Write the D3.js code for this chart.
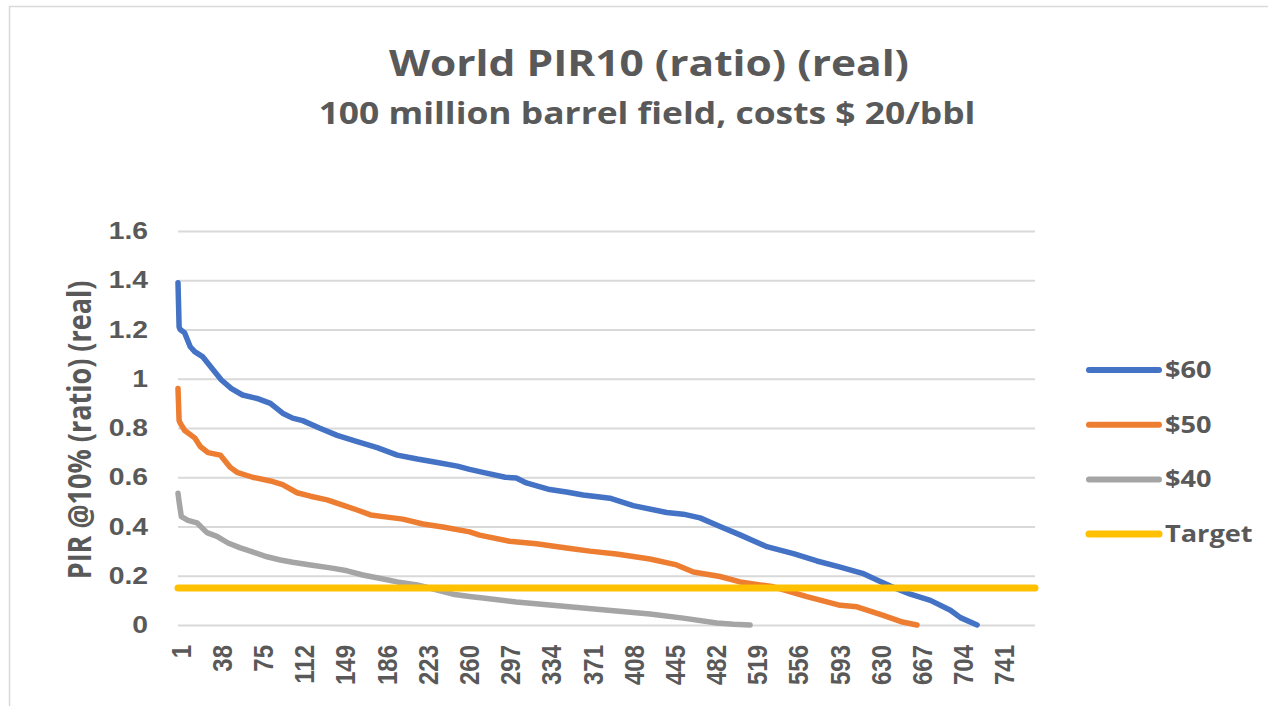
<!DOCTYPE html>
<html lang="en">
<head>
    <meta charset="UTF-8">
    <title>World PIR10 (ratio) (real)</title>
    <script src="https://d3js.org/d3.v7.min.js"></script>
    <style>
        body {
            margin: 0;
            background-color: #ffffff;
            font-family: "Open Sans", Arial, sans-serif;
        }
        .title {
            font-size: 36px;
            font-weight: bold;
            fill: #595959;
            text-anchor: middle;
        }
        .subtitle {
            font-size: 30px;
            font-weight: bold;
            fill: #595959;
            text-anchor: middle;
        }
        .tick-label {
            font-size: 24px;
            font-weight: bold;
            fill: #595959;
        }
        .axis-title {
            font-size: 27px;
            font-weight: bold;
            fill: #595959;
            text-anchor: middle;
        }
        .legend-label {
            font-size: 23px;
            font-weight: bold;
            fill: #595959;
        }
    </style>
</head>
<body>
    <svg id="chart" width="1268" height="706"></svg>
    <script>
        // sorted fields at sample positions
        const cats60 = [1, 2, 3, 7, 12, 16, 23, 32, 40, 49, 59, 72, 84, 95, 104, 113, 128, 144, 162, 180, 198, 216, 234, 252, 263, 275, 295, 305, 314, 335, 350, 365, 380, 389, 410, 440, 455, 470, 488, 506, 530, 554, 575, 596, 616, 629, 641, 659, 677, 695, 704, 719];
        const vals60 = [1.39, 1.21, 1.20, 1.186, 1.13, 1.11, 1.09, 1.04, 0.995, 0.96, 0.934, 0.92, 0.90, 0.86, 0.84, 0.83, 0.80, 0.77, 0.745, 0.72, 0.69, 0.674, 0.66, 0.645, 0.632, 0.62, 0.60, 0.597, 0.577, 0.55, 0.54, 0.528, 0.52, 0.515, 0.485, 0.457, 0.45, 0.435, 0.40, 0.366, 0.318, 0.29, 0.26, 0.235, 0.21, 0.183, 0.158, 0.125, 0.10, 0.06, 0.03, 0];

        const cats50 = [1, 2, 3, 7, 16, 21, 28, 39, 48, 54, 68, 84, 95, 108, 120, 135, 149, 162, 174, 189, 203, 221, 239, 263, 272, 299, 323, 350, 371, 395, 425, 449, 464, 488, 506, 536, 566, 596, 611, 634, 652, 665];
        const vals50 = [0.96, 0.83, 0.82, 0.79, 0.76, 0.725, 0.70, 0.69, 0.64, 0.62, 0.60, 0.585, 0.57, 0.537, 0.523, 0.508, 0.487, 0.467, 0.447, 0.438, 0.43, 0.41, 0.398, 0.378, 0.365, 0.34, 0.33, 0.313, 0.30, 0.288, 0.268, 0.244, 0.215, 0.197, 0.175, 0.155, 0.115, 0.08, 0.074, 0.04, 0.012, 0];

        const cats40 = [1, 2, 4, 10, 18, 27, 36, 46, 57, 68, 81, 93, 104, 120, 138, 153, 167, 182, 198, 216, 234, 248, 263, 275, 305, 335, 365, 395, 425, 455, 485, 500, 515];
        const vals40 = [0.535, 0.50, 0.44, 0.425, 0.415, 0.375, 0.36, 0.333, 0.313, 0.297, 0.277, 0.264, 0.255, 0.244, 0.232, 0.22, 0.203, 0.19, 0.175, 0.163, 0.142, 0.125, 0.116, 0.11, 0.093, 0.081, 0.069, 0.057, 0.045, 0.028, 0.008, 0.003, 0];

        const targetCats = [1, 771];
        const targetVals = [0.15, 0.15];

        const xTicks = [1, 38, 75, 112, 149, 186, 223, 260, 297, 334, 371, 408, 445, 482, 519, 556, 593, 630, 667, 704, 741];
        const yTicks = [0, 0.2, 0.4, 0.6, 0.8, 1, 1.2, 1.4, 1.6];

        const seriesNames = ["$60", "$50", "$40", "Target"];
        const seriesColors = ["#4472C4", "#ED7D31", "#A5A5A5", "#FFC000"];

        // the source picture is a bit wider than tall, so text gets the same stretch
        const sx = 1.18;

        const svg = d3.select("#chart");

        // chart border (runs off the right and bottom)
        svg.append("rect")
            .attr("x", 9.5).attr("y", 6.5)
            .attr("width", 1300).attr("height", 720)
            .attr("fill", "#ffffff")
            .attr("stroke", "#d9d9d9")
            .attr("stroke-width", 1.5);

        const x = d3.scaleLinear().domain([1, 771]).range([178, 1035]);
        const y = d3.scaleLinear().domain([0, 1.6]).range([625, 231]);

        svg.append("text").attr("class", "title")
            .attr("transform", `translate(649,76) scale(${sx},1)`)
            .text("World PIR10 (ratio) (real)");
        svg.append("text").attr("class", "subtitle")
            .attr("transform", `translate(647,124) scale(${sx},1)`)
            .text("100 million barrel field, costs $ 20/bbl");

        // gridlines
        svg.append("g")
            .attr("transform", "translate(178,0)")
            .call(d3.axisLeft(y).tickValues(yTicks).tickSize(-(1035 - 178)).tickFormat(""))
            .call(g => g.select(".domain").remove())
            .call(g => g.selectAll("line").attr("stroke", "#d9d9d9").attr("stroke-width", 2));

        // y labels
        const yAxis = svg.append("g")
            .attr("transform", "translate(148,0)")
            .call(d3.axisLeft(y).tickValues(yTicks).tickSize(0).tickPadding(0).tickFormat(d3.format("")))
            .call(g => g.select(".domain").remove());
        yAxis.selectAll("text")
            .attr("class", "tick-label")
            .attr("fill", null)
            .attr("x", 0)
            .attr("transform", `scale(${sx},1)`);

        // x labels, rotated
        const xAxis = svg.append("g")
            .attr("transform", "translate(0,645)")
            .call(d3.axisBottom(x).tickValues(xTicks).tickSize(0).tickPadding(0).tickFormat(d3.format("d")))
            .call(g => g.select(".domain").remove());
        xAxis.selectAll("text")
            .attr("class", "tick-label")
            .attr("fill", null)
            .attr("transform", `scale(${sx},1) rotate(-90)`)
            .attr("text-anchor", "end")
            .attr("x", 0)
            .attr("y", 2)
            .attr("dy", "0.35em");

        svg.append("text").attr("class", "axis-title")
            .attr("transform", `translate(80,430) scale(${sx},1) rotate(-90)`)
            .attr("dy", "0.35em")
            .text("PIR @10% (ratio) (real)");

        const line = d3.line()
            .x(d => x(d[0]))
            .y(d => y(d[1]));

        const series = [
            d3.zip(cats60, vals60),
            d3.zip(cats50, vals50),
            d3.zip(cats40, vals40)
        ];

        svg.append("g").selectAll("path")
            .data(series)
            .enter().append("path")
            .attr("d", line)
            .attr("fill", "none")
            .attr("stroke", (d, i) => seriesColors[i])
            .attr("stroke-width", 5.5)
            .attr("stroke-linejoin", "round")
            .attr("stroke-linecap", "round");

        svg.append("path")
            .attr("d", line(d3.zip(targetCats, targetVals)))
            .attr("fill", "none")
            .attr("stroke", seriesColors[3])
            .attr("stroke-width", 7)
            .attr("stroke-linecap", "round");

        // legend
        const legend = svg.append("g").selectAll("g")
            .data(seriesNames)
            .enter().append("g")
            .attr("transform", (d, i) => `translate(0, ${370 + i * 54.7})`);
        legend.append("line")
            .attr("x1", 1089).attr("x2", 1159)
            .attr("stroke", (d, i) => seriesColors[i])
            .attr("stroke-width", (d, i) => i === 3 ? 7 : 6)
            .attr("stroke-linecap", "round");
        legend.append("text")
            .attr("class", "legend-label")
            .attr("transform", `translate(1165,0) scale(${sx},1)`)
            .attr("dy", "0.35em")
            .text(d => d);
    </script>
</body>
</html>
